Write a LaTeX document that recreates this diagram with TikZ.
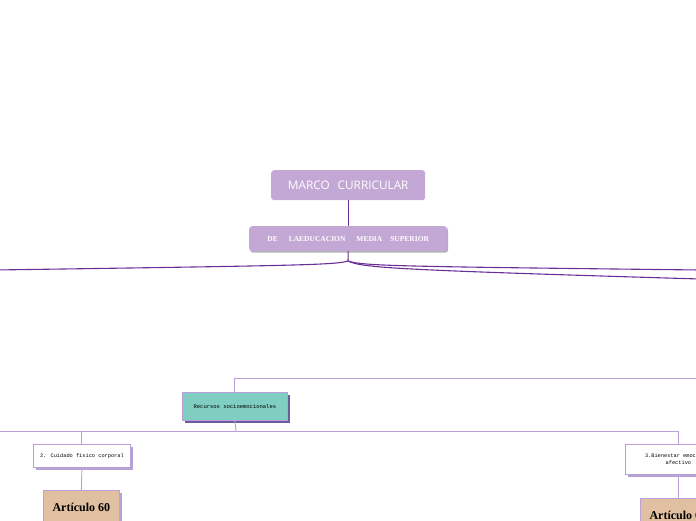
\documentclass[tikz,border=0pt]{standalone}
\usepackage{fontspec}
\setmainfont{Liberation Serif}
\newfontfamily\titlefont{Open Sans}
\newfontfamily\notefont{Liberation Mono}
\usetikzlibrary{shadows}

\definecolor{lilac}{HTML}{C3A7D4}
\definecolor{lilacline}{HTML}{B9A0D6}
\definecolor{darkline}{HTML}{6A2F95}
\definecolor{teal}{HTML}{7FCEC1}
\definecolor{tan}{HTML}{E1BFA1}
\definecolor{deepshadow}{HTML}{6C5C9E}

\begin{document}
\begin{tikzpicture}[
    x=1pt, y=-1pt, % work in pixels of the reference
    topbox/.style={fill=lilac, rounded corners=3pt, text=white, anchor=north west, inner sep=0pt}, % purple title boxes
    notebox/.style={draw=lilacline, line width=0.8pt, fill=white, anchor=north west, inner sep=1pt, align=center,
        font=\notefont\fontsize{5.3}{7}\selectfont,
        copy shadow={shadow xshift=2.5pt, shadow yshift=-2.5pt, fill=lilacline, draw=none}}, % small topic boxes
    artbox/.style={draw=lilacline, line width=0.8pt, fill=tan, anchor=north west, inner sep=0pt,
        font=\bfseries\fontsize{12}{14}\selectfont,
        copy shadow={shadow xshift=2.5pt, shadow yshift=-2.5pt, fill=lilacline, draw=none}}, % article boxes
    link/.style={draw=lilacline, line width=0.9pt}, % thin connectors
    mainlink/.style={draw=darkline, line width=1.1pt} % curved connectors from the title
]

    % --- Page frame ---
    \useasboundingbox (0,0) rectangle (696,520);
    \clip (0,0) rectangle (696,520);

    % --- Title boxes ---
    \node[topbox, minimum width=154pt, minimum height=30pt] (marco) at (271,170)
        {\titlefont\fontsize{11.8}{14}\selectfont MARCO\hspace{8pt}CURRICULAR};
    \node[topbox, minimum width=198pt, minimum height=25pt,
        copy shadow={shadow xshift=1pt, shadow yshift=-1.5pt, fill=black!30, draw=none}] (ems) at (249,226)
        {\bfseries\fontsize{7.5}{9}\selectfont DE\hspace{11pt}LAEDUCACION\hspace{11pt}MEDIA\hspace{8pt}SUPERIOR};

    \draw[mainlink] (marco.south) -- (ems.north);

    % --- Branches leaving the title ---
    \coordinate (junc) at (348,261);
    \coordinate (leftend) at (-5,270);
    \coordinate (rightup) at (700,270);
    \coordinate (rightlow) at (700,279);

    \draw[mainlink] (ems.south) -- (junc);
    \draw[mainlink] (junc) .. controls (335,265) and (300,265.5) .. (leftend);
    \draw[mainlink] (junc) .. controls (362,266) and (400,266.5) .. (rightup);
    \draw[mainlink] (junc) .. controls (362,268) and (400,270) .. (rightlow);

    % --- Recursos socioemocionales ---
    \node[draw=lilacline, line width=0.8pt, fill=teal, anchor=north west, inner sep=0pt,
        minimum width=105pt, minimum height=28pt,
        copy shadow={shadow xshift=2.5pt, shadow yshift=-2.5pt, fill=deepshadow, draw=none}] (recursos) at (182,392)
        {\notefont\fontsize{5.5}{7}\selectfont Recursos socioemocionales};

    \coordinate (topright) at (700,378);
    \draw[link] (recursos.north) |- (topright);

    % --- Topics under it ---
    \node[notebox, minimum width=97pt, minimum height=23pt] (cuidado) at (33,444)
        {2. Cuidado f\'isico corporal};
    \node[notebox, minimum width=106pt, minimum height=30pt] (bienestar) at (625,444)
        {3.Bienestar emocional\\ afectivo};

    \coordinate (hub) at (236,431);
    \coordinate (hubleft) at (-5,431);
    \draw[link] (recursos.south) -- (hub);
    \draw[link] (hub) -- (hubleft);
    \draw[link] (hub) -| (cuidado.north);
    \draw[link] (hub) -| (bienestar.north);

    % --- Articles ---
    \node[artbox, minimum width=76pt, minimum height=34pt] (art60) at (43,490) {Art\'iculo 60};
    \node[artbox, minimum width=76pt, minimum height=34pt] (art61) at (640,498) {Art\'iculo 61};

    \draw[link] (cuidado.south) -- (art60.north);
    \draw[link] (bienestar.south) -- (art61.north);

\end{tikzpicture}
\end{document}
